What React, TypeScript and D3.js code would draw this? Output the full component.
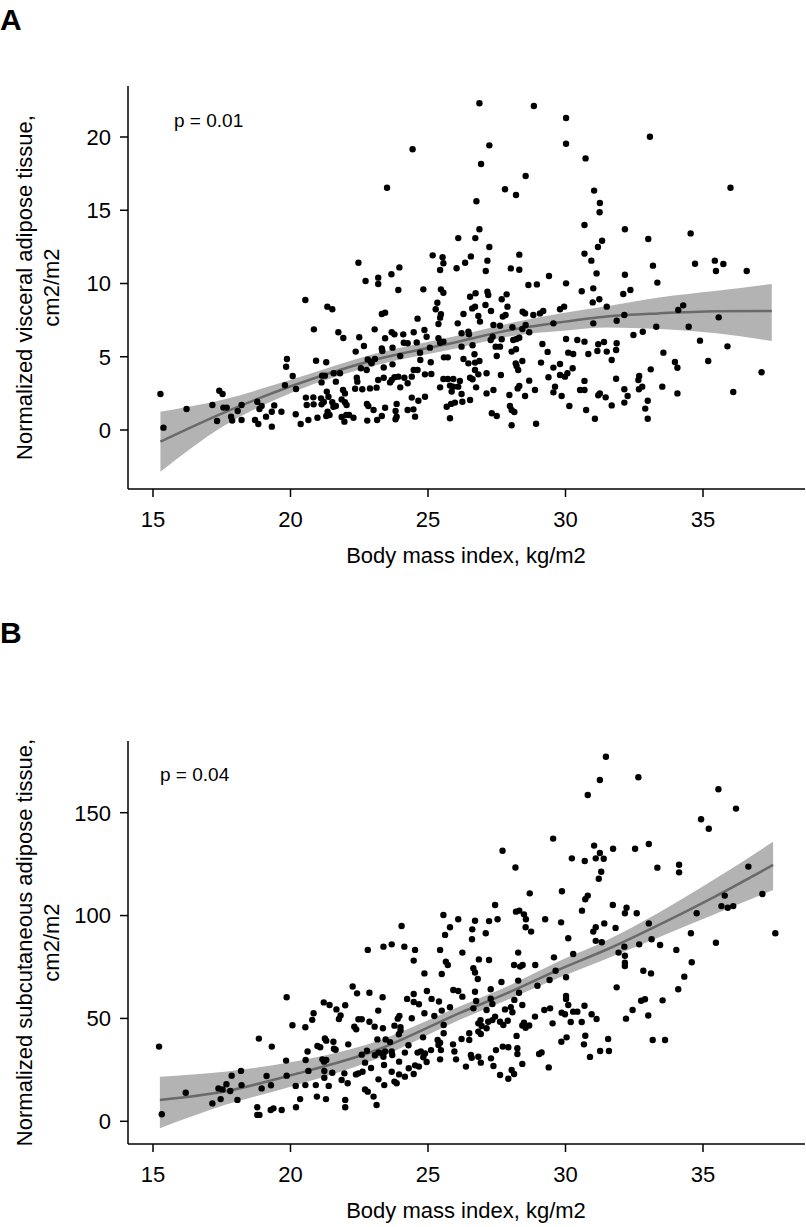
import React from "react";
import * as d3 from "d3";

// ---------- Panel A: visceral adipose tissue ----------
const pointsA: [number, number][] = [
  [24.44,19.16],[23.51,16.54],[26.10,13.10],[22.47,11.42],[25.17,11.92],[25.53,11.79],[25.56,11.38],[25.44,10.92],[26.04,11.04],[26.35,11.42],[23.19,10.40],[23.67,10.63],[23.96,11.10],
  [26.87,22.30],[28.85,22.12],[30.02,21.30],[27.23,19.43],[30.02,19.54],[33.07,20.02],[26.93,18.16],[30.73,18.54],[28.55,17.34],[27.80,16.43],[28.20,16.04],[31.04,16.34],[31.25,15.49],[31.24,14.86],[36.00,16.54],[26.76,15.61],[26.87,13.70],[30.69,13.99],[32.16,13.70],[34.55,13.42],[33.01,13.04],[26.72,13.10],[27.23,12.49],[26.56,11.85],[27.16,11.56],[27.10,10.85],[28.32,11.97],[28.01,11.03],[28.32,10.94],[29.40,10.51],[30.69,12.04],[30.94,11.56],[31.33,12.92],[31.18,12.49],[31.13,10.69],[32.16,10.60],[33.18,11.22],[34.71,11.35],[35.43,11.56],[35.47,10.85],[35.74,11.33],[36.59,10.85],
  [22.73,10.17],[23.19,9.97],[23.92,9.56],[24.83,9.60],[25.47,9.60],[25.56,9.37],[20.54,8.87],[21.34,8.42],[21.52,8.24],[25.34,8.69],[25.28,8.24],[25.47,7.90],[25.44,7.67],[23.32,7.92],[23.44,8.01],[24.62,7.60],[26.29,7.92],[26.08,7.28],[25.38,7.24],[20.85,6.87],[21.74,6.67],[21.92,6.28],[23.06,6.87],[22.50,6.33],[22.67,5.73],[22.37,5.35],[23.68,6.67],[23.78,6.53],[24.10,6.53],[24.48,6.67],[24.87,6.83],[24.95,6.37],[24.59,5.98],[24.12,5.96],[24.26,5.92],[25.38,6.26],[25.44,5.96],[25.56,6.03],[25.07,5.62],[26.22,6.60],[26.22,5.69],[23.44,6.26],[23.32,5.57],[23.34,5.39],[23.71,5.62],[24.71,5.28],[19.87,4.85],[19.84,4.32],[20.93,4.73],[21.30,4.62],[22.81,4.82],[22.92,4.66],[23.07,4.85],[22.95,4.55],[23.99,5.05],[24.72,4.78],[25.58,4.96],[25.72,4.96],[26.29,4.85],[25.10,4.62],[23.39,4.27],[23.71,4.48],[24.48,4.10],[24.62,4.10],[24.89,3.80],[25.12,3.82],[20.08,3.69],[19.80,3.05],[20.20,2.80],[21.15,3.71],[21.25,3.71],[21.57,3.87],[21.80,3.87],[21.65,3.30],[21.13,3.25],[22.56,4.21],[22.77,4.10],[22.41,3.57],[22.43,3.30],[22.35,2.82],[22.61,2.78],[22.89,2.84],[23.13,2.89],[23.19,3.41],[23.39,3.57],[23.68,3.41],[23.62,3.25],[23.78,3.60],[23.92,3.64],[24.14,3.57],[24.41,3.64],[24.26,3.19],[23.99,2.91],[25.44,2.91],[25.56,3.48],[25.72,3.48],[25.92,3.48],[26.16,3.35],[25.92,2.96],[26.10,2.96],[17.41,2.68],[17.53,2.46],[15.27,2.46],[16.22,1.43],[17.16,1.71],[17.56,1.53],[17.68,1.53],[18.22,1.71],[18.08,1.30],[18.79,1.93],[18.95,1.64],[18.87,1.43],[19.41,1.68],[19.32,1.25],[19.67,1.25],[17.33,0.61],[17.84,0.91],[17.88,0.64],[18.22,0.68],[18.71,0.68],[18.83,0.41],[19.11,0.91],[19.32,0.23],[20.19,1.07],[20.37,0.41],[20.65,0.68],[20.98,0.84],[21.35,1.25],[21.30,0.96],[21.42,1.02],[21.86,0.89],[21.96,0.57],[22.03,1.02],[22.13,1.02],[22.29,0.84],[20.56,2.21],[20.59,1.71],[20.83,2.23],[20.84,1.75],[21.11,2.16],[21.13,1.75],[21.21,1.91],[21.32,2.62],[21.38,2.27],[21.56,1.59],[21.65,1.64],[21.86,2.09],[21.98,2.50],[21.98,1.89],[22.04,1.71],[21.91,2.73],[21.52,1.89],[22.78,1.78],[22.83,1.64],[23.02,1.37],[22.79,0.64],[23.15,0.68],[23.32,0.96],[23.44,1.52],[23.86,1.78],[23.82,1.30],[23.86,0.91],[23.82,0.73],[24.26,1.37],[24.41,2.21],[24.47,1.41],[24.53,0.91],[24.65,2.00],[24.89,2.27],[25.68,1.59],[25.84,1.78],[25.98,1.87],[25.80,0.80],[25.86,2.62],[26.22,2.46],[26.25,1.93],[25.80,3.03],[15.38,0.16],
  [28.65,9.90],[28.96,9.94],[30.02,10.01],[33.34,10.06],[30.59,9.47],[31.01,9.67],[32.10,9.28],[32.36,9.56],[26.53,9.10],[26.73,9.33],[27.16,9.44],[27.19,9.22],[27.86,9.26],[27.68,8.92],[27.89,8.42],[26.61,8.30],[26.71,8.42],[27.09,8.53],[27.29,8.12],[26.83,7.78],[27.72,7.74],[27.82,7.85],[28.44,8.08],[28.53,7.96],[28.83,7.85],[29.07,7.96],[29.19,8.12],[29.80,8.24],[29.95,8.42],[30.99,8.71],[31.23,8.92],[31.50,8.42],[32.14,7.85],[34.10,8.19],[34.28,8.51],[35.57,7.69],[26.89,7.40],[27.38,7.17],[27.62,7.12],[29.56,7.28],[31.01,7.28],[31.86,7.46],[34.48,7.05],[33.30,7.05],[32.81,6.71],[32.47,6.48],[28.07,7.01],[28.43,6.89],[28.55,7.17],[28.68,6.67],[26.47,6.71],[26.49,6.53],[27.35,6.37],[27.28,6.14],[27.68,6.19],[28.10,6.14],[28.22,6.21],[28.32,6.30],[30.02,6.21],[30.43,6.14],[30.69,6.03],[26.62,5.78],[27.46,5.69],[27.62,5.69],[27.50,5.05],[28.04,5.35],[28.20,5.51],[26.69,5.17],[26.47,4.55],[26.71,4.60],[26.87,4.71],[28.19,4.55],[28.43,4.71],[29.16,5.87],[29.35,5.33],[29.11,4.60],[29.80,4.51],[30.10,5.28],[30.28,5.19],[30.83,5.19],[31.19,5.85],[31.40,6.01],[31.16,5.39],[31.50,5.35],[31.86,5.92],[31.84,5.46],[31.68,4.78],[33.56,5.28],[34.89,6.10],[35.19,4.71],[35.89,5.71],[33.98,4.64],[26.71,4.10],[26.83,3.80],[26.53,3.57],[26.62,3.46],[26.75,2.91],[27.13,3.87],[27.65,3.75],[28.22,4.37],[28.28,4.10],[29.56,4.26],[30.26,4.21],[29.80,3.75],[29.98,3.64],[30.07,3.87],[29.38,3.60],[29.62,2.96],[29.56,2.57],[29.86,2.32],[28.68,3.37],[28.89,2.73],[28.32,3.00],[28.26,2.84],[27.96,2.39],[28.53,2.32],[27.38,2.73],[27.13,2.50],[30.69,3.35],[30.53,2.73],[30.69,2.73],[31.25,2.50],[31.19,2.37],[31.46,2.23],[31.84,3.50],[32.14,2.78],[32.26,2.32],[32.68,3.69],[32.65,3.41],[32.79,2.96],[32.67,2.78],[33.10,4.14],[33.52,2.96],[34.07,4.25],[37.13,3.94],[36.10,2.59],[34.07,2.50],[26.53,2.05],[32.14,1.87],[32.99,2.00],[32.90,1.46],[32.99,0.77],[31.68,1.68],[31.07,0.77],[30.75,1.37],[30.14,1.64],[28.04,0.32],[28.93,0.43],[27.32,1.14],[27.50,0.96],[27.98,1.64],[28.04,1.37],[28.14,1.23],
];

const fitXA = [15.27, 17.6, 20.04, 23.07, 26.1, 28.0, 29.8, 31.5, 33.4, 35.5, 37.5];
const fitYA = [-0.8, 1.2, 3.0, 4.8, 6.03, 6.83, 7.35, 7.75, 7.96, 8.1, 8.12];
const loA = [-2.85, 0.3, 2.55, 4.4, 5.6, 6.4, 6.75, 7.0, 6.9, 6.6, 6.07];
const hiA = [1.25, 2.1, 3.45, 5.2, 6.45, 7.3, 7.95, 8.45, 9.05, 9.5, 9.97];

// ---------- Panel B: subcutaneous adipose tissue ----------
const pointsB: [number, number][] = [
  [25.56,100.3],[26.10,98.2],
  [31.47,177.2],[31.25,165.9],[32.65,167.2],[30.81,158.6],[35.56,161.4],[36.20,152.0],[34.93,146.8],[35.21,142.2],[29.55,137.4],[27.71,131.5],[31.04,134.0],[31.25,130.4],[31.73,132.5],[32.53,132.5],[33.03,134.8],[30.23,127.8],[30.70,126.5],[31.10,127.8],[31.39,127.6],[31.30,121.3],[31.21,117.9],[28.18,123.4],[33.34,123.3],[34.13,124.7],[34.13,121.0],[36.65,123.8],[28.70,110.8],[29.87,111.8],[30.81,109.7],[30.72,107.9],[27.44,105.1],[28.20,101.9],[28.32,102.4],[28.49,100.6],[28.56,98.2],[29.26,98.2],[30.60,102.4],[31.72,105.1],[32.22,103.8],[32.16,101.1],[32.59,101.1],[34.77,101.1],[35.79,109.7],[35.67,104.6],[35.90,103.8],[36.10,104.6],[37.16,110.5],[26.71,97.5],[27.22,97.3],[27.53,98.2],
  [24.04,94.9],[25.80,94.3],[25.62,90.6],[22.81,83.3],[23.38,84.9],[23.68,86.0],[24.14,84.9],[24.53,83.3],[24.48,78.1],[25.44,83.3],[26.25,82.0],[25.65,77.6],[25.72,76.0],[25.50,71.6],[24.87,71.9],[19.86,60.3],[22.26,65.5],[22.42,62.2],[22.87,62.5],[23.35,60.3],[24.24,59.5],[24.48,61.9],[24.48,58.0],[24.67,56.9],[24.96,63.3],[25.13,59.5],[25.40,58.2],[25.92,63.8],[26.10,63.3],[26.25,60.6],[25.80,55.4],[25.50,53.8],[24.87,52.5],[25.23,51.2],[25.57,46.8],[24.41,50.1],[23.96,51.2],[23.90,49.9],[23.78,46.5],[24.00,45.7],[23.19,53.8],[23.36,45.2],[23.06,46.0],[22.87,48.4],[22.59,49.6],[22.47,49.6],[22.32,46.0],[22.39,44.7],[21.21,57.8],[21.42,56.5],[21.67,54.4],[21.99,56.4],[21.82,51.4],[21.76,49.7],[20.84,52.5],[20.79,49.3],[20.54,45.7],[20.07,46.7],[21.25,40.3],[20.98,36.6],[21.08,36.0],[21.30,39.2],[21.56,38.7],[21.58,35.3],[21.64,34.8],[22.10,37.4],[22.59,32.4],[22.78,34.3],[23.16,39.8],[23.46,39.8],[23.62,38.5],[23.94,42.3],[24.00,44.1],[24.29,37.0],[24.82,40.8],[25.35,39.5],[25.44,38.2],[25.38,37.1],[25.57,42.8],[25.91,37.4],[26.22,40.0],[23.07,32.1],[23.20,33.4],[23.34,33.0],[23.44,33.9],[23.38,31.4],[23.68,33.9],[23.70,32.2],[24.16,33.4],[24.62,33.4],[24.74,33.9],[24.89,33.0],[25.11,34.6],[24.83,31.1],[24.95,28.8],[25.47,34.6],[25.44,30.1],[25.96,33.9],[26.02,30.1],[24.53,27.2],[24.67,26.6],[24.30,25.8],[24.48,23.0],[24.16,21.7],[23.95,29.0],[23.95,22.8],[23.68,24.1],[23.78,19.3],[23.86,18.5],[23.41,17.6],[23.40,27.4],[23.20,20.4],[22.93,25.9],[22.71,28.5],[22.62,24.1],[22.47,23.3],[22.38,22.8],[22.71,15.5],[22.81,14.4],[23.02,12.0],[23.13,7.9],[21.86,20.1],[21.96,23.3],[22.08,18.5],[21.52,23.6],[21.23,24.5],[21.23,21.2],[21.22,29.0],[21.16,30.1],[21.30,29.8],[20.62,33.9],[20.55,29.8],[20.65,24.5],[19.84,29.5],[19.86,22.2],[19.32,36.3],[18.85,40.2],[19.13,22.0],[19.29,17.5],[18.95,16.0],[18.20,24.5],[17.86,22.2],[18.22,17.6],[18.07,10.4],[17.67,18.0],[17.81,14.7],[17.38,16.0],[17.53,15.5],[17.46,10.8],[17.16,8.7],[16.19,13.9],[15.22,36.3],[15.32,3.4],[20.19,17.2],[20.54,17.6],[20.92,17.6],[21.39,17.2],[20.96,12.0],[21.29,10.8],[20.35,10.8],[20.20,6.8],[19.68,5.5],[19.38,6.3],[19.28,5.5],[18.79,6.8],[18.79,3.1],[18.87,3.1],[21.99,10.4],[21.99,6.8],
  [29.84,96.7],[33.03,96.2],[31.41,96.2],[31.82,94.0],[31.10,94.3],[31.01,92.2],[28.55,94.3],[28.75,92.2],[26.61,93.3],[27.10,91.4],[26.60,88.5],[30.10,89.0],[31.10,87.7],[31.32,87.0],[32.14,84.9],[32.68,86.0],[33.13,88.5],[33.44,85.7],[34.56,91.4],[35.47,86.8],[37.63,91.4],[34.03,83.3],[34.59,77.3],[34.32,70.3],[34.10,64.2],[33.11,71.9],[32.83,73.2],[31.93,82.0],[32.16,80.5],[32.16,77.1],[32.16,75.5],[31.86,65.1],[32.75,58.6],[32.89,59.3],[33.53,58.8],[32.44,54.1],[32.20,49.9],[33.01,51.4],[33.17,39.5],[33.62,39.5],[30.28,81.3],[29.58,79.7],[29.64,73.2],[30.02,70.0],[29.42,68.7],[28.98,65.9],[28.90,76.0],[28.28,82.0],[28.13,76.0],[28.35,75.2],[28.44,76.0],[27.22,78.4],[26.85,78.7],[26.65,74.4],[26.71,72.3],[26.81,69.2],[27.67,67.7],[28.28,68.4],[27.28,64.2],[26.71,63.0],[26.75,58.5],[27.28,59.6],[27.34,57.0],[26.65,54.9],[27.13,54.1],[27.80,54.4],[28.01,55.4],[28.07,53.0],[28.14,59.0],[28.31,62.5],[28.43,56.5],[28.89,50.9],[29.23,54.1],[29.44,54.9],[29.86,52.8],[29.98,52.0],[30.10,56.5],[30.02,60.9],[30.02,59.5],[30.28,53.3],[30.43,53.3],[30.69,56.2],[30.95,52.0],[31.13,49.7],[30.19,48.3],[30.59,48.3],[29.53,47.6],[28.68,46.6],[28.43,46.6],[28.55,45.5],[28.49,47.9],[27.90,48.9],[27.62,48.4],[27.74,46.8],[27.44,50.9],[27.34,49.2],[27.19,48.4],[26.91,49.2],[26.83,47.6],[26.95,46.3],[27.13,45.2],[26.83,43.6],[26.92,42.4],[26.50,42.8],[26.50,39.5],[28.22,41.5],[29.85,38.7],[30.04,40.8],[30.67,37.4],[30.72,41.6],[31.55,40.0],[31.26,34.2],[31.58,34.2],[30.89,31.3],[29.04,32.7],[29.13,33.5],[29.39,26.2],[28.25,35.5],[27.92,36.0],[27.72,36.3],[27.47,34.6],[28.25,32.7],[28.43,27.9],[27.29,30.6],[26.83,31.4],[26.56,32.2],[26.59,30.9],[26.92,28.5],[27.38,26.9],[27.62,22.5],[27.92,20.7],[28.04,24.9],[28.13,23.0],[26.38,26.6],
];

const fitXB = [15.25, 17.6, 20.04, 23.07, 26.1, 28.0, 29.8, 31.5, 33.4, 35.4, 37.55];
const fitYB = [10.4, 14.5, 22.5, 34.3, 52.3, 63.0, 74.0, 83.5, 95.5, 109.0, 124.6];
const loB = [-3.4, 7.9, 16.9, 30.0, 49.0, 59.7, 70.0, 79.0, 89.5, 100.5, 112.4];
const hiB = [21.7, 24.1, 28.8, 38.6, 55.6, 66.3, 78.0, 88.0, 101.5, 117.5, 135.9];

const xTicks = [15, 20, 25, 30, 35];
const yTicksA = [0, 5, 10, 15, 20];
const yTicksB = [0, 50, 100, 150];

const FONT = "'Liberation Sans', Arial, Helvetica, sans-serif";
const FS = 22;

type PanelProps = {
  letter: string;
  letterY: number;
  points: [number, number][];
  fitX: number[];
  fitY: number[];
  lo: number[];
  hi: number[];
  yTicks: number[];
  yDomain: [number, number];
  yRange: [number, number];
  axisTop: number;
  axisBottom: number;
  pLabel: string;
  pX: number;
  pY: number;
  yLabel1: string;
};

function Panel(p: PanelProps) {
  const x = d3.scaleLinear().domain([15, 35]).range([153, 703]);
  const y = d3.scaleLinear().domain(p.yDomain).range(p.yRange);
  const left = 128;
  const right = 805;
  const band = p.fitX.map((v, i) => ({ x: v, lo: p.lo[i], hi: p.hi[i] }));
  const fit = p.fitX.map((v, i) => ({ x: v, y: p.fitY[i] }));
  const area = d3
    .area<{ x: number; lo: number; hi: number }>()
    .x((d) => x(d.x))
    .y0((d) => y(d.lo))
    .y1((d) => y(d.hi))
    .curve(d3.curveMonotoneX);
  const line = d3
    .line<{ x: number; y: number }>()
    .x((d) => x(d.x))
    .y((d) => y(d.y))
    .curve(d3.curveMonotoneX);
  const midY = (p.axisTop + p.axisBottom) / 2;
  return (
    <g>
      <text x={0} y={p.letterY} fontFamily={FONT} fontWeight="bold" fontSize={30}>
        {p.letter}
      </text>
      <path d={area(band) || ""} fill="#b3b3b3" />
      <path d={line(fit) || ""} fill="none" stroke="#6a6a6a" strokeWidth={2.5} />
      {p.points.map((d, i) => (
        <circle key={i} cx={x(d[0])} cy={y(d[1])} r={3.2} fill="#000" />
      ))}
      <line x1={left} x2={left} y1={p.axisTop} y2={p.axisBottom} stroke="#000" strokeWidth={1.5} />
      <line x1={left} x2={right} y1={p.axisBottom} y2={p.axisBottom} stroke="#000" strokeWidth={1.5} />
      {p.yTicks.map((t) => (
        <g key={t}>
          <line x1={left - 8} x2={left} y1={y(t)} y2={y(t)} stroke="#000" strokeWidth={1.5} />
          <text x={111} y={y(t)} dy="0.36em" textAnchor="end" fontFamily={FONT} fontSize={FS}>
            {t}
          </text>
        </g>
      ))}
      {xTicks.map((t) => (
        <g key={t}>
          <line x1={x(t)} x2={x(t)} y1={p.axisBottom} y2={p.axisBottom + 8} stroke="#000" strokeWidth={1.5} />
          <text x={x(t)} y={p.axisBottom + 38} textAnchor="middle" fontFamily={FONT} fontSize={FS}>
            {t}
          </text>
        </g>
      ))}
      <text x={466} y={p.axisBottom + 74} textAnchor="middle" fontFamily={FONT} fontSize={FS}>
        Body mass index, kg/m2
      </text>
      <text
        transform={`translate(32,${midY}) rotate(-90)`}
        textAnchor="middle"
        fontFamily={FONT}
        fontSize={FS}
      >
        {p.yLabel1}
      </text>
      <text
        transform={`translate(59,${midY}) rotate(-90)`}
        textAnchor="middle"
        fontFamily={FONT}
        fontSize={FS}
      >
        cm2/m2
      </text>
      <text x={p.pX} y={p.pY} fontFamily={FONT} fontSize={19}>
        {p.pLabel}
      </text>
    </g>
  );
}

export default function App() {
  return (
    <svg
      width={806}
      height={1227}
      style={{ position: "absolute", left: 0, top: 0, background: "#fff" }}
    >
      <rect width={806} height={1227} fill="#fff" />
      <Panel
        letter="A"
        letterY={30}
        points={pointsA}
        fitX={fitXA}
        fitY={fitYA}
        lo={loA}
        hi={hiA}
        yTicks={yTicksA}
        yDomain={[0, 20]}
        yRange={[430, 137]}
        axisTop={86}
        axisBottom={489}
        pLabel="p = 0.01"
        pX={174}
        pY={127}
        yLabel1="Normalized visceral adipose tissue,"
      />
      <Panel
        letter="B"
        letterY={643}
        points={pointsB}
        fitX={fitXB}
        fitY={fitYB}
        lo={loB}
        hi={hiB}
        yTicks={yTicksB}
        yDomain={[0, 150]}
        yRange={[1121.3, 812.7]}
        axisTop={741}
        axisBottom={1144}
        pLabel="p = 0.04"
        pX={160}
        pY={781}
        yLabel1="Normalized subcutaneous adipose tissue,"
      />
    </svg>
  );
}
